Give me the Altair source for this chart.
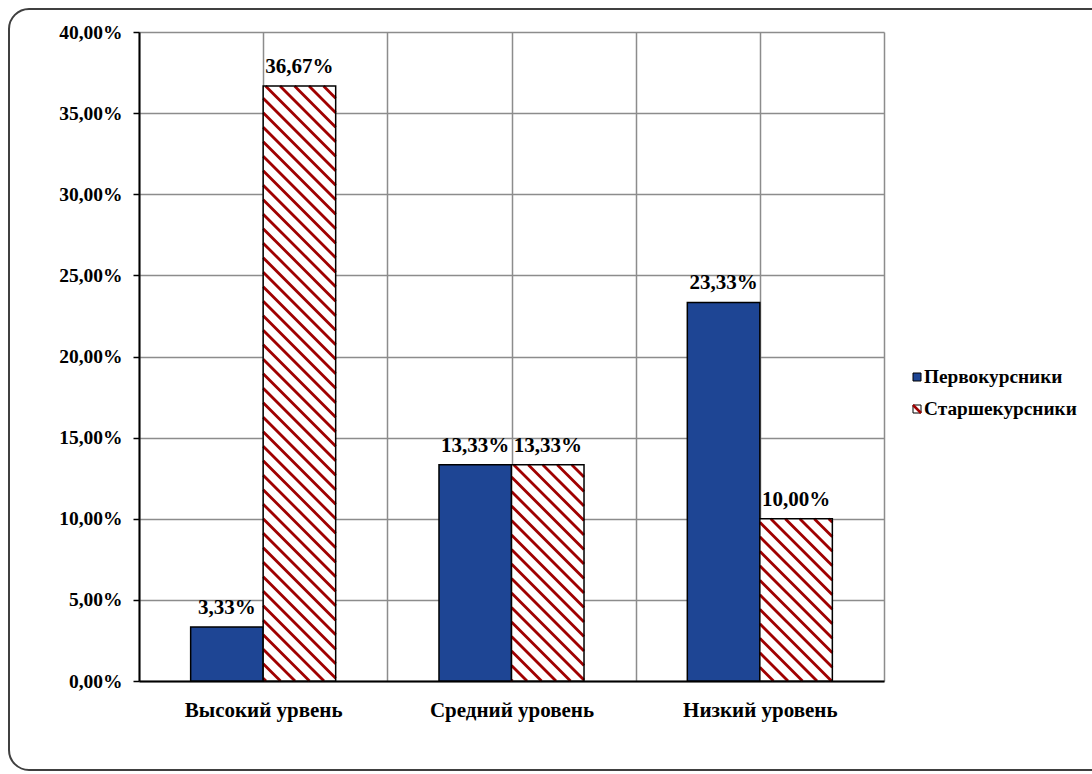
import altair as alt
import pandas as pd

# ---- data -------------------------------------------------------------
categories = ["Высокий урвень", "Средний уровень", "Низкий уровень"]
series_names = ["Первокурсники", "Старшекурсники"]
first_year = [0.0333, 0.1333, 0.2333]
senior = [0.3667, 0.1333, 0.1000]
y_ticks = [0.00, 0.05, 0.10, 0.15, 0.20, 0.25, 0.30, 0.35, 0.40]

# ---- styling ----------------------------------------------------------
SERIF = "'Liberation Serif', 'Times New Roman', 'DejaVu Serif', serif"
BLUE = "#1E4594"
HATCH_RED = "#A00000"
GRID = "#8C8C8C"

W, H = 745, 649          # plot area in pixels
X_MAX, Y_MAX = 3.0, 0.40  # data extents of the two scales
BAR_W = 0.292             # bar width in category units
HATCH_STEP = 14.5         # horizontal spacing of the diagonal stripes (px)

# ---- tables -----------------------------------------------------------
rows = []
for i, cat in enumerate(categories):
    c = i + 0.5
    rows.append({"cat": cat, "series": series_names[0], "value": first_year[i],
                 "x0": c - BAR_W, "x1": c})
    rows.append({"cat": cat, "series": series_names[1], "value": senior[i],
                 "x0": c, "x1": c + BAR_W})
bars = pd.DataFrame(rows)
blue_bars = bars[bars.series == series_names[0]]
hatched_bars = bars[bars.series == series_names[1]]


def hatch_segments(df):
    """Diagonal '\\' stripes clipped to each bar, returned in data units."""
    sx = W / X_MAX
    sy = H / Y_MAX
    segs = []
    for _, r in df.iterrows():
        left, right = r.x0 * sx, r.x1 * sx
        top, bottom = H - r.value * sy, H
        k = int((top - right) // HATCH_STEP) - 1
        while k * HATCH_STEP <= bottom - left + HATCH_STEP:
            c = k * HATCH_STEP
            lo = max(left, top - c)
            hi = min(right, bottom - c)
            if hi - lo > 0.5:
                segs.append({
                    "hx": lo / sx, "hx2": hi / sx,
                    "hy": (H - (lo + c)) / sy, "hy2": (H - (hi + c)) / sy,
                })
            k += 1
    return pd.DataFrame(segs)


hatch = hatch_segments(hatched_bars)

# ---- scales & axes ----------------------------------------------------
xs = alt.Scale(domain=[0, X_MAX], nice=False, zero=False)
ys = alt.Scale(domain=[0, Y_MAX], nice=False)

cat_expr = " : ".join(
    f"datum.value == {i + 0.5} ? '{cat}'" for i, cat in enumerate(categories)
) + " : ''"

x_axis = alt.Axis(
    values=[0, 0.5, 1, 1.5, 2, 2.5, 3], labelExpr=cat_expr, title=None,
    grid=True, gridColor=GRID, gridWidth=1.5, ticks=False,
    domainColor="black", domainWidth=2,
    labelFont=SERIF, labelFontWeight="bold", labelFontSize=21,
    labelColor="black", labelPadding=18, labelOverlap=False, labelFlush=False,
)
y_axis = alt.Axis(
    values=y_ticks, title=None,
    labelExpr="replace(format(datum.value, '.2%'), '.', ',')",
    grid=True, gridColor=GRID, gridWidth=1.5,
    tickColor="black", tickSize=6, tickWidth=1.5,
    domainColor="black", domainWidth=2,
    labelFont=SERIF, labelFontWeight="bold", labelFontSize=19.5,
    labelColor="black", labelPadding=11,
)

one = alt.Data(values=[{}])

# ---- outer rounded frame ---------------------------------------------
frame = alt.Chart(one).mark_rect(
    fillOpacity=0, stroke="#404040", strokeWidth=2, cornerRadius=20
).encode(
    x=alt.value(-130), x2=alt.value(990), y=alt.value(-23), y2=alt.value(738)
)

# ---- bars -------------------------------------------------------------
blue_layer = alt.Chart(blue_bars).mark_bar(
    color=BLUE, stroke="black", strokeWidth=1.5
).encode(
    x=alt.X("x0:Q", scale=xs, axis=x_axis), x2="x1:Q",
    y=alt.Y("value:Q", scale=ys, axis=y_axis), y2=alt.datum(0),
)

white_layer = alt.Chart(hatched_bars).mark_bar(color="white").encode(
    x=alt.X("x0:Q", scale=xs), x2="x1:Q",
    y=alt.Y("value:Q", scale=ys), y2=alt.datum(0),
)

hatch_layer = alt.Chart(hatch).mark_rule(
    color=HATCH_RED, strokeWidth=2.8, strokeCap="butt"
).encode(
    x=alt.X("hx:Q", scale=xs), x2="hx2:Q",
    y=alt.Y("hy:Q", scale=ys), y2="hy2:Q",
)

outline_layer = alt.Chart(hatched_bars).mark_bar(
    fillOpacity=0, stroke="black", strokeWidth=1.5
).encode(
    x=alt.X("x0:Q", scale=xs), x2="x1:Q",
    y=alt.Y("value:Q", scale=ys), y2=alt.datum(0),
)

labels = alt.Chart(bars).transform_calculate(
    xc="(datum.x0 + datum.x1) / 2",
    label="replace(format(datum.value, '.2%'), '.', ',')",
).mark_text(
    font=SERIF, fontWeight="bold", fontSize=21, color="black",
    baseline="alphabetic", dy=-13,
).encode(
    x=alt.X("xc:Q", scale=xs), y=alt.Y("value:Q", scale=ys), text="label:N",
)

# ---- legend -----------------------------------------------------------
LEG_X, LEG_Y1, LEG_Y2 = 778, 345, 377
leg_blue = alt.Chart(one).mark_square(
    size=64, fill=BLUE, stroke="black", strokeWidth=1, opacity=1
).encode(x=alt.value(LEG_X), y=alt.value(LEG_Y1))
leg_white = alt.Chart(one).mark_square(
    size=64, fill="white", stroke="black", strokeWidth=1, opacity=1
).encode(x=alt.value(LEG_X), y=alt.value(LEG_Y2))
leg_stripe = alt.Chart(one).mark_rule(
    color=HATCH_RED, strokeWidth=2.5
).encode(
    x=alt.value(LEG_X - 4), x2=alt.value(LEG_X + 4),
    y=alt.value(LEG_Y2 - 4), y2=alt.value(LEG_Y2 + 4),
)
leg_text = [
    alt.Chart(one).mark_text(
        font=SERIF, fontWeight="bold", fontSize=19.3, color="black",
        align="left", baseline="middle",
    ).encode(x=alt.value(LEG_X + 7), y=alt.value(yy), text=alt.value(name))
    for name, yy in zip(series_names, [LEG_Y1, LEG_Y2])
]

chart = alt.layer(
    frame, blue_layer, white_layer, hatch_layer, outline_layer, labels,
    leg_blue, leg_white, leg_stripe, *leg_text,
).properties(
    width=W, height=H,
    padding={"left": 139, "top": 32, "right": 208, "bottom": 93},
    autosize=alt.AutoSizeParams(type="none"),
    background="white",
).configure_view(stroke=None)

chart.save("out.html", embed_options={"renderer": "svg", "actions": False})
